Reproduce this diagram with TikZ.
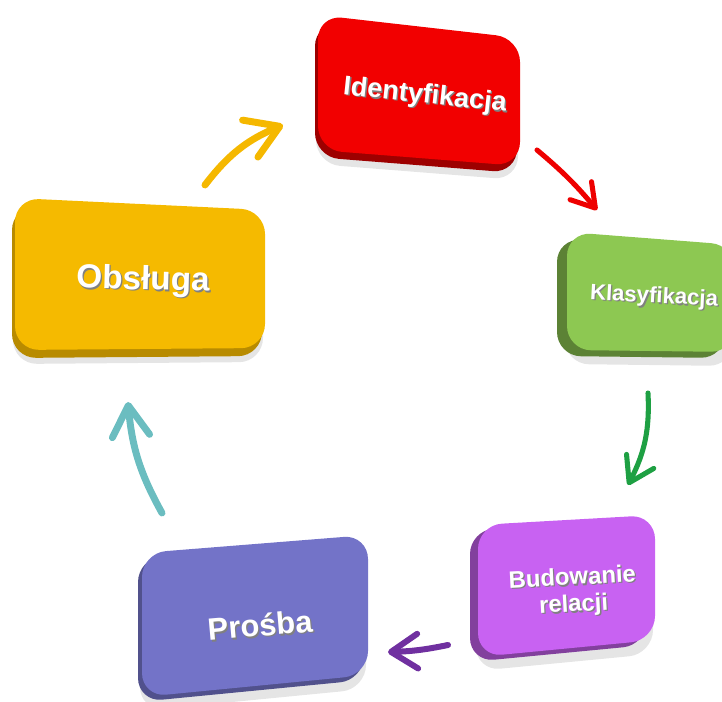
\documentclass[tikz,border=0pt]{standalone}
\usepackage{fontspec}
\setmainfont{Liberation Sans}
\usetikzlibrary{arrows.meta}

\definecolor{idred}{HTML}{F20000}
\definecolor{klgreen}{HTML}{8DC852}
\definecolor{budviolet}{HTML}{C862F2}
\definecolor{problue}{HTML}{7373C8}
\definecolor{obsyellow}{HTML}{F5BA00}
\definecolor{arryellow}{HTML}{F5B800}
\definecolor{arrred}{HTML}{EE0000}
\definecolor{arrgreen}{HTML}{1EA043}
\definecolor{arrviolet}{HTML}{7030A0}
\definecolor{arrteal}{HTML}{6BBDC0}

\tikzset{
  face/.style={rounded corners=18pt},
  soft/.style={face, black, opacity=.10},
  lbl/.style={text=white, font=\bfseries\fontsize{#1}{20}\selectfont, align=center, inner sep=0pt},
  shd/.style={lbl=#1, text=black!50},
  cyc/.style={line width=#1, line cap=round},
}

\begin{document}
\begin{tikzpicture}[x=0.75pt, y=-0.75pt]
\clip (0,0) rectangle (722,702);
% Identyfikacja
\fill[soft, shift={(-2,14)}] (318,15) -- (520,38) -- (520,166) -- (318,150) -- cycle;
\fill[face, idred!65!black, shift={(-3,7)}] (318,15) -- (520,38) -- (520,166) -- (318,150) -- cycle;
\fill[face, idred] (318,15) -- (520,38) -- (520,166) -- (318,150) -- cycle;
\node[shd=20.3, rotate=-6] (id-s) at (426.3,97.3) {Identyfikacja};
\node[lbl=20.3, rotate=-6] (id) at (425,96) {Identyfikacja};
% Klasyfikacja
\fill[soft, shift={(-2,14)}] (567,232) -- (735,245) -- (735,352) -- (567,350) -- cycle;
\fill[face, klgreen!65!black, shift={(-10,6)}] (567,232) -- (735,245) -- (735,352) -- (567,350) -- cycle;
\fill[face, klgreen] (567,232) -- (735,245) -- (735,352) -- (567,350) -- cycle;
\node[shd=16.6, rotate=-3] (kl-s) at (655.3,298.3) {Klasyfikacja};
\node[lbl=16.6, rotate=-3] (kl) at (654,297) {Klasyfikacja};
% Budowanie relacji
\fill[soft, shift={(-2,14)}] (478,525) -- (655,515) -- (655,640) -- (478,657) -- cycle;
\fill[face, budviolet!65!black, shift={(-8,5)}] (478,525) -- (655,515) -- (655,640) -- (478,657) -- cycle;
\fill[face, budviolet] (478,525) -- (655,515) -- (655,640) -- (478,657) -- cycle;
\node[shd=17.9, rotate=3] (bud-s) at (574.3,593.3) {Budowanie\\relacji};
\node[lbl=17.9, rotate=3] (bud) at (573,592) {Budowanie\\relacji};
% Prosba
\fill[soft, shift={(-2,14)}] (142,553) -- (368,535) -- (368,675) -- (142,697) -- cycle;
\fill[face, problue!70!black, shift={(-4,5)}] (142,553) -- (368,535) -- (368,675) -- (142,697) -- cycle;
\fill[face, problue] (142,553) -- (368,535) -- (368,675) -- (142,697) -- cycle;
\node[shd=23.2, rotate=5] (pro-s) at (261.3,626.3) {Prośba};
\node[lbl=23.2, rotate=5] (pro) at (260,625) {Prośba};
% Obsluga
\fill[soft, shift={(-2,14)}] (15,198) -- (265,210) -- (265,348) -- (15,350) -- cycle;
\fill[face, obsyellow!75!black, shift={(-3,8)}] (15,198) -- (265,210) -- (265,348) -- (15,350) -- cycle;
\fill[face, obsyellow] (15,198) -- (265,210) -- (265,348) -- (15,350) -- cycle;
\node[shd=25, rotate=-1.5] (obs-s) at (144.3,282.3) {Obsługa};
\node[lbl=25, rotate=-1.5] (obs) at (143,281) {Obsługa};
% arrow ends
\coordinate (y1) at (205,185);  \coordinate (y2) at (283,125);
\coordinate (r1) at (537,150);  \coordinate (r2) at (597,210);
\coordinate (g1) at (648,393);  \coordinate (g2) at (628,485);
\coordinate (v1) at (448,645);  \coordinate (v2) at (388,652);
\coordinate (t1) at (162,513);  \coordinate (t2) at (128,402);
\draw[cyc=5.2pt, arryellow, -{Straight Barb[round, length=24pt, width=30pt]}] (y1) to[bend left=15] (y2);
\draw[cyc=3.8pt, arrred, -{Straight Barb[round, length=17pt, width=21pt]}] (r1) to[bend left=5] (r2);
\draw[cyc=3.8pt, arrgreen, -{Straight Barb[round, length=18pt, width=23pt]}] (g1) to[bend left=15] (g2);
\draw[cyc=4.5pt, arrviolet, -{Straight Barb[round, length=20pt, width=26pt]}] (v1) to[bend left=5] (v2);
\draw[cyc=5.2pt, arrteal, -{Straight Barb[round, length=23pt, width=28pt]}] (t1) to[bend left=12] (t2);
\end{tikzpicture}
\end{document}
